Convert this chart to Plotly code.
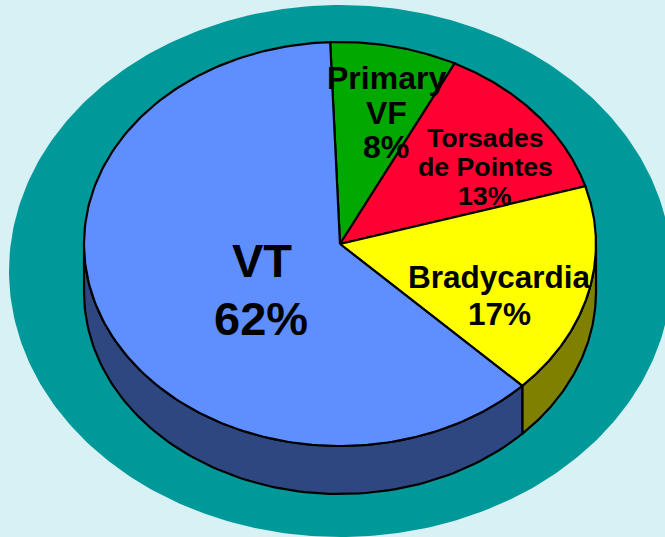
import numpy as np
import plotly.graph_objects as go

categories = ["Primary VF", "Torsades de Pointes", "Bradycardia", "VT"]
values = [8, 13, 17, 62]
colors = ["#00A800", "#FF0033", "#FFFF00", "#5F8FFF"]
side_colors = ["#005400", "#800019", "#808000", "#2F4780"]

W, H = 665, 537
START = -2.2
CX, CY, RX, RY, DEPTH = 340, 244, 256, 202, 48
OUT_CX, OUT_CY, OUT_RX, OUT_RY = 340.5, 271, 331.5, 266

labels = [
    ("Primary", 386, 78, 32), ("VF", 386, 113, 32), ("8%", 386, 147, 32),
    ("Torsades", 485, 138, 26.7), ("de Pointes", 485, 167, 26.7), ("13%", 485, 196, 26.7),
    ("Bradycardia", 499, 277, 31.5), ("17%", 499, 314, 31.5),
    ("VT", 262, 260, 47), ("62%", 261, 318, 47),
]


def pt(t, dy=0, cx=CX, cy=CY, rx=RX, ry=RY):
    r = np.radians(t)
    return cx + rx * np.sin(r), cy - ry * np.cos(r) + dy


fig = go.Figure()

# outer teal ellipse
ox, oy = pt(np.linspace(0, 360, 361), cx=OUT_CX, cy=OUT_CY, rx=OUT_RX, ry=OUT_RY)
fig.add_trace(go.Scatter(x=ox, y=oy, mode="lines", fill="toself", fillcolor="#009999",
                         line=dict(width=0), hoverinfo="skip", showlegend=False))

edges = START + np.cumsum([0] + values) * 360 / sum(values)

# side walls (only the front half of the rim, 90..270 degrees clockwise from top)
for i, cat in enumerate(categories):
    a, b = max(edges[i], 90), min(edges[i + 1], 270)
    if a >= b:
        continue
    ts = np.linspace(a, b, 100)
    x1, y1 = pt(ts)
    x2, y2 = pt(ts[::-1], DEPTH)
    fig.add_trace(go.Scatter(x=np.r_[x1, x2, x1[0]], y=np.r_[y1, y2, y1[0]], mode="lines",
                             fill="toself", fillcolor=side_colors[i],
                             line=dict(color="black", width=2.2), name=cat + " side",
                             hoverinfo="skip", showlegend=False))

# top wedges
for i, cat in enumerate(categories):
    ts = np.linspace(edges[i], edges[i + 1], 200)
    x, y = pt(ts)
    fig.add_trace(go.Scatter(x=np.r_[CX, x, CX], y=np.r_[CY, y, CY], mode="lines",
                             fill="toself", fillcolor=colors[i],
                             line=dict(color="black", width=2.2), name=cat,
                             hoverinfo="skip", showlegend=False))

for text, x, y, size in labels:
    fig.add_annotation(x=x, y=y, text=f"<b>{text}</b>", showarrow=False,
                       xanchor="center", yanchor="middle",
                       font=dict(family="Liberation Sans", size=size, color="black"))

fig.update_layout(
    width=W, height=H, margin=dict(l=0, r=0, t=0, b=0),
    paper_bgcolor="#D8F1F5", plot_bgcolor="#D8F1F5", showlegend=False,
    xaxis=dict(range=[0, W], visible=False, fixedrange=True),
    yaxis=dict(range=[H, 0], visible=False, fixedrange=True),
)
fig.write_html("out.html", config={"displayModeBar": False},
               post_script="document.body.style.margin='0';document.documentElement.style.overflow='hidden';")
